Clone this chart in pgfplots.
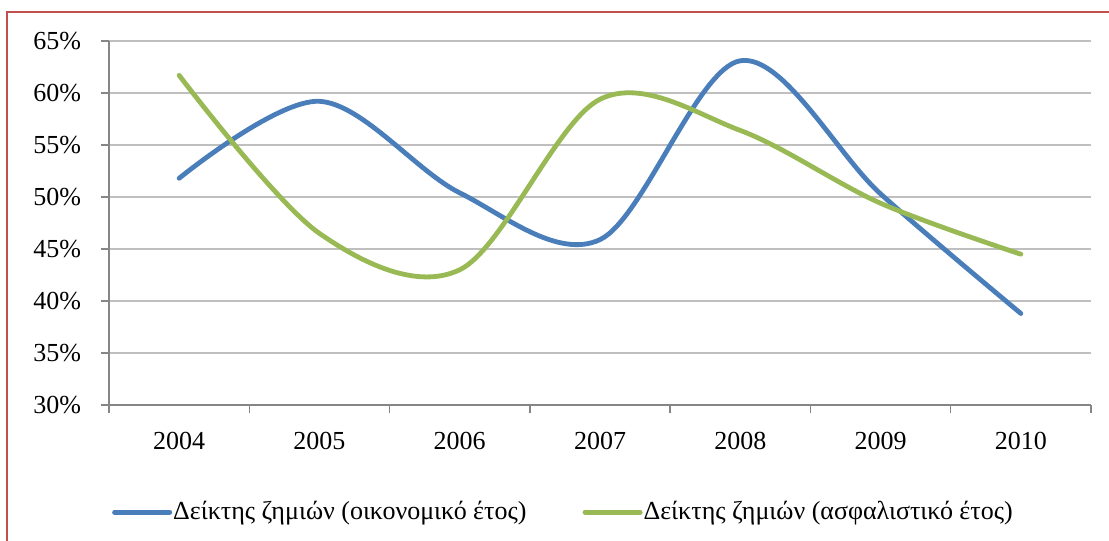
\documentclass[border=0pt]{standalone}
\usepackage{pgfplots}
\pgfplotsset{compat=1.18}
\usepackage{fontspec}
\setmainfont{Liberation Serif}
\definecolor{sblue}{HTML}{4A7EBB}
\definecolor{sgreen}{HTML}{98B954}
\definecolor{frameRed}{HTML}{C0504D}
\definecolor{gridc}{HTML}{BFBFBF}
\definecolor{axisc}{HTML}{868686}
\begin{document}
\fontsize{26}{31}\selectfont
\begin{tikzpicture}[x=1pt,y=1pt]
\begin{axis}[
  at={(109pt,136pt)}, anchor=south west,
  scale only axis, width=982pt, height=364pt,
  xmin=-0.5, xmax=6.5, ymin=30, ymax=65,
  axis x line=bottom, axis y line=left,
  axis line style={-, draw=axisc, line width=1.5pt},
  tick align=outside,
  major tick length=8pt,
  tick style={draw=axisc, line width=1.5pt},
  xtick={-0.5,0.5,1.5,2.5,3.5,4.5,5.5,6.5},
  xticklabels={,,,,,,,},
  extra x ticks={0,1,2,3,4,5,6},
  extra x tick labels={2004,2005,2006,2007,2008,2009,2010},
  extra x tick style={major tick length=0pt, tick style={draw=none}},
  ytick={30,35,40,45,50,55,60,65},
  yticklabel={\pgfmathprintnumber{\tick}\%},
  /pgf/number format/assume math mode=true,
  ymajorgrids,
  grid style={draw=gridc, line width=1.5pt},
  every tick label/.append style={font=\fontsize{26}{31}\selectfont},
  xticklabel style={yshift=-18pt},
  yticklabel style={xshift=-11pt},
  legend columns=2,
  legend style={at={(rel axis cs:0.003,-0.294)}, anchor=west, draw=none, fill=none,
    inner sep=0pt, font=\fontsize{26}{31}\selectfont,
    nodes={inner sep=0pt},
    /tikz/every odd column/.append style={column sep=1pt},
    /tikz/every even column/.append style={column sep=56pt}},
  legend image code/.code={\draw[#1, line width=5pt, line cap=round] (0pt,0pt) -- (55pt,0pt);},
  clip=false,
]
\addplot[sblue, line width=4.8pt, smooth, tension=0.55, line cap=round] coordinates {
  (0,51.8) (1,59.2) (2,50.4) (3,45.9) (4,63.1) (5,50.3) (6,38.8)};
\addlegendentry{Δείκτης ζημιών (οικονομικό έτος)}
\addplot[sgreen, line width=4.8pt, smooth, tension=0.55, line cap=round] coordinates {
  (0,61.7) (1,46.5) (2,43.0) (3,59.4) (4,56.4) (5,49.4) (6,44.5)};
\addlegendentry{Δείκτης ζημιών (ασφαλιστικό έτος)}
\end{axis}
\draw[frameRed, line width=1.5pt] (7pt,-20pt) -- (7pt,529pt) -- (1130pt,529pt);
\pgfresetboundingbox
\path[use as bounding box] (0pt,0pt) rectangle (1109pt,541pt);
\end{tikzpicture}
\end{document}
